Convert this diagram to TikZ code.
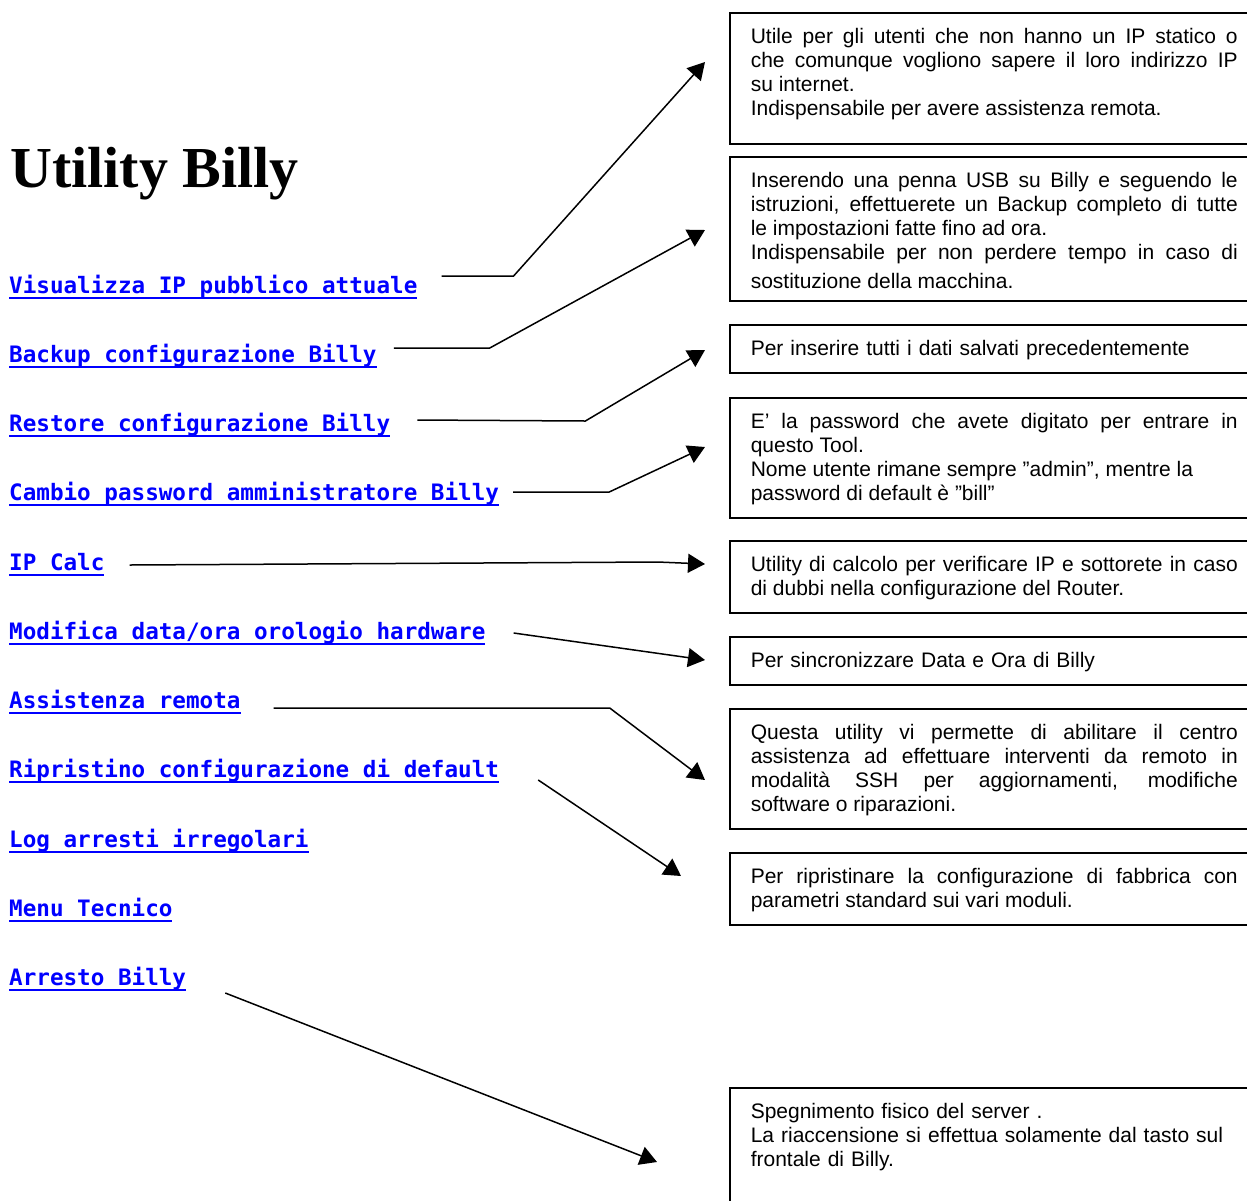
\documentclass[tikz,border=0pt]{standalone}
\usepackage{fontspec}
\setmainfont{Liberation Sans}
\newfontfamily\titlefont{Liberation Serif}
\newfontfamily\linkfont{DejaVu Sans Mono}
\usetikzlibrary{arrows.meta,calc}
\definecolor{linkblue}{RGB}{0,0,255}
\newsavebox\linkbox
\newcommand\linkline[1]{\sbox\linkbox{#1}\rlap{\rule[-6pt]{\wd\linkbox}{2pt}}\usebox\linkbox}

\begin{document}
\begin{tikzpicture}[x=1pt,y=-1pt]
\useasboundingbox (0,0) rectangle (1247,1200);
\tikzstyle{link} = [anchor=base west, inner sep=0pt, text=linkblue, font=\linkfont\bfseries\fontsize{22.6}{26}\selectfont];
\tikzstyle{info} = [draw, line width=1.5pt, anchor=north west, text width=487pt, inner xsep=21pt, inner ysep=16pt, text depth=1pt, align=justify, font=\fontsize{21}{24}\selectfont];
\tikzstyle{conn} = [line width=1.5pt, -{Triangle[length=17pt,width=19pt]}];
\node[anchor=base west, inner sep=0pt, font=\titlefont\bfseries\fontsize{58}{60}\selectfont] (title) at (10,187) {Utility Billy};
%
\node[link] (ipvis) at (9,293) {\linkline{Visualizza IP pubblico attuale}};
\node[link] (backup) at (9,362) {\linkline{Backup configurazione Billy}};
\node[link] (restore) at (9,431) {\linkline{Restore configurazione Billy}};
\node[link] (passwd) at (9,500) {\linkline{Cambio password amministratore Billy}};
\node[link] (ipcalc) at (9,570) {\linkline{IP Calc}};
\node[link] (clock) at (9,639) {\linkline{Modifica data/ora orologio hardware}};
\node[link] (remote) at (9,708) {\linkline{Assistenza remota}};
\node[link] (reset) at (9,777) {\linkline{Ripristino configurazione di default}};
\node[link] (logstop) at (9,847) {\linkline{Log arresti irregolari}};
\node[link] (techmenu) at (9,916) {\linkline{Menu Tecnico}};
\node[link] (shutdown) at (9,985) {\linkline{Arresto Billy}};
%
\node[info, text depth=84pt] (infoip) at (729,12) {Utile per gli utenti che non hanno un IP statico o\linebreak che comunque vogliono sapere il loro indirizzo IP\linebreak su internet.\\Indispensabile per avere assistenza remota.};
\node[info, text depth=97pt] (infobackup) at (729,156) {Inserendo una penna USB su Billy e seguendo le\linebreak istruzioni, effettuerete un Backup completo di tutte\linebreak le impostazioni fatte fino ad ora.\\Indispensabile per non perdere tempo in caso di\linebreak \rule{0pt}{23.5pt}sostituzione della macchina.};
\node[info, align=left] (inforestore) at (729,324) {Per inserire tutti i dati salvati precedentemente};
\node[info, text depth=73pt] (infopasswd) at (729,397) {E' la password che avete digitato per entrare in\linebreak questo Tool.\\Nome utente rimane sempre ''admin'', mentre la\\password di default è ''bill''};
\node[info, text depth=25pt] (infocalc) at (729,540) {Utility di calcolo per verificare IP e sottorete in caso\linebreak di dubbi nella configurazione del Router.};
\node[info, align=left] (infoclock) at (729,636) {Per sincronizzare Data e Ora di Billy};
\node[info, text depth=73pt] (inforemote) at (729,708) {Questa utility vi permette di abilitare il centro\linebreak assistenza ad effettuare interventi da remoto in\linebreak modalità SSH per aggiornamenti, modifiche\linebreak software o riparazioni.};
\node[info, text depth=25pt] (inforeset) at (729,852) {Per ripristinare la configurazione di fabbrica con\linebreak parametri standard sui vari moduli.};
\node[info, align=left, text depth=120pt] (infoshutdown) at (729,1087) {Spegnimento fisico del server .\\La riaccensione si effettua solamente dal tasto sul\\frontale di Billy.};
%
\draw[conn] ($(ipvis.base east)+(24,-17)$) -- ++(72,0) -- ($(infoip.north west)+(-24,50)$);
\draw[conn] ($(backup.base east)+(17,-14)$) -- ++(96,0) -- ($(infobackup.north west)+(-24,74)$);
\draw[conn] ($(restore.base east)+(27,-11)$) -- ++(168,1) -- ($(inforestore.north west)+(-24,26)$);
\draw[conn] ($(passwd.base east)+(14,-8)$) -- ++(96,0) -- ($(infopasswd.north west)+(-24,50)$);
\draw[conn] ($(ipcalc.base east)+(25,-5)$) -- ++(528,-3) -- ($(infocalc.north west)+(-24,24)$);
\draw[conn] ($(clock.base east)+(28,-6)$) -- ($(infoclock.north west)+(-24,24)$);
\draw[conn] ($(remote.base east)+(33,0)$) -- ++(336,0) -- ($(inforemote.north west)+(-24,72)$);
\draw[conn] ($(reset.base east)+(39,3)$) -- ($(inforeset.north west)+(-48,24)$);
\draw[conn] ($(shutdown.base east)+(39,8)$) -- ($(infoshutdown.north west)+(-72,75)$);
\end{tikzpicture}
\end{document}
